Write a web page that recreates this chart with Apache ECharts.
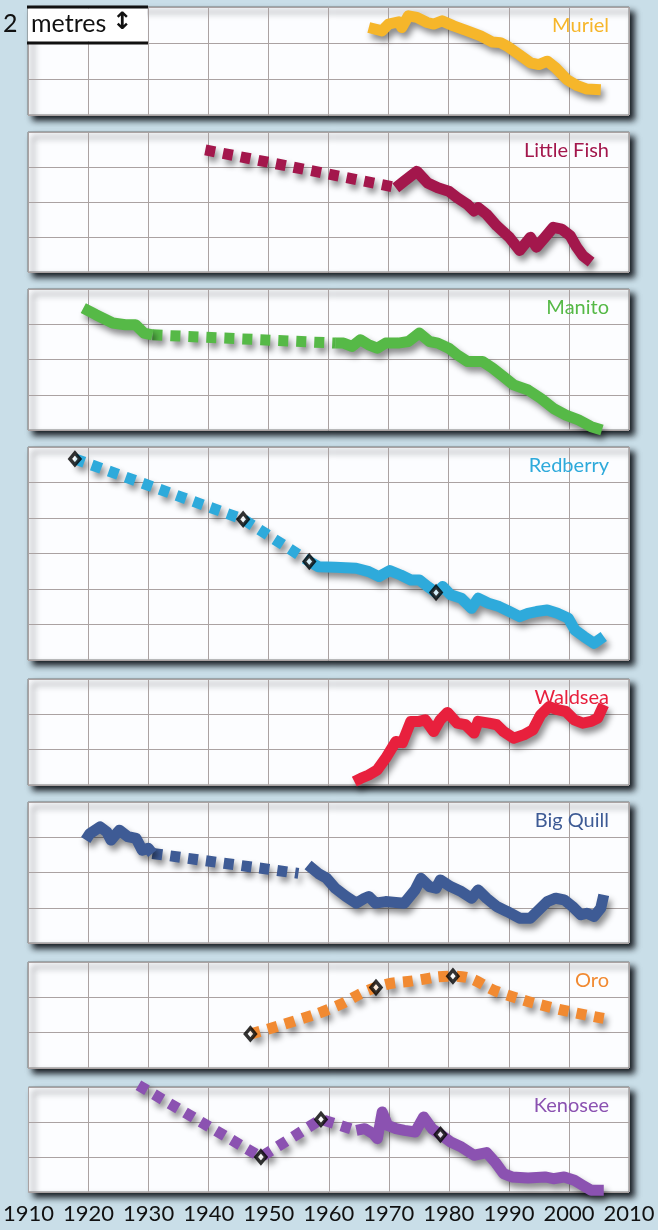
<!DOCTYPE html>
<html>
<head>
<meta charset="utf-8">
<script src="https://cdn.jsdelivr.net/npm/echarts@6/dist/echarts.min.js"></script>
<style>
html,body{margin:0;padding:0;background:#c9dee8;}
#chart{width:658px;height:1230px;}
</style>
</head>
<body>
<div id="chart"></div>
<script>
// ---- data: [year, water level in metres (relative)] ----
const yearTicks = [1910,1920,1930,1940,1950,1960,1970,1980,1990,2000,2010];
const lakeNames = ['Muriel','Little Fish','Manito','Redberry','Waldsea','Big Quill','Oro','Kenosee'];
const lakeColors = ['#f6b62a','#a3174c','#56b947','#2eaadb','#e8203d','#3e5b95','#f18a32','#8b52b1'];
const lakeRows = [3,4,4,6,3,4,3,3];

const murielSolid = [[1966.7,4.86],[1968.9,4.67],[1970,5.05],[1971.7,5.18],[1972.2,4.86],[1973.3,5.51],[1974.7,5.42],[1976.4,5.14],[1977.5,5.05],[1978.9,5.23],[1980.8,4.95],[1983.1,4.67],[1985.3,4.39],[1987.2,4.06],[1988.6,4.02],[1989.7,3.83],[1991.7,3.36],[1993.6,2.9],[1995,2.8],[1996.4,2.99],[1997.8,2.62],[1999.7,1.96],[2001.4,1.63],[2003,1.44],[2005.3,1.4]];

const littleFishDashed = [[1939.5,6.98],[1971.0,4.85]];
const littleFishSolid = [[1971.2,4.81],[1972.6,5.19],[1974.7,5.75],[1976.5,5.09],[1978.2,4.81],[1980,4.62],[1981.4,4.25],[1983.1,3.87],[1984.2,3.49],[1984.9,3.68],[1986.3,3.3],[1988,2.64],[1990.1,1.98],[1991.8,1.23],[1993.6,1.98],[1994.6,1.42],[1996,1.98],[1997.4,2.55],[1998.8,2.45],[2000.2,2.08],[2001.3,1.42],[2002.3,0.94],[2003.7,0.57]];

const manitoSolidEarly = [[1919.2,6.92],[1921.3,6.54],[1924.1,6.07],[1926.2,5.97],[1927.9,5.97],[1929.3,5.5],[1930.7,5.4]];
const manitoDashed = [[1930.7,5.4],[1961.1,4.93]];
const manitoSolid = [[1961.1,4.93],[1962.5,4.93],[1963.9,4.74],[1965.3,5.12],[1966.7,4.83],[1968.1,4.64],[1969.5,4.93],[1971.6,4.93],[1973.3,5.02],[1975.1,5.5],[1976.8,5.02],[1978.2,4.93],[1980,4.64],[1981.4,4.27],[1983.1,3.89],[1985.6,3.89],[1987.3,3.51],[1989.1,3.03],[1990.8,2.56],[1993.2,2.27],[1995.3,1.8],[1997.4,1.23],[1999.5,0.85],[2001.6,0.57],[2003.7,0.19],[2005.5,0.0]];

const redberryDashed = [[1917.8,11.33],[1945.8,7.93],[1956.8,5.55]];
const redberrySolid = [[1956.8,5.55],[1958.3,5.26],[1961.1,5.23],[1964.6,5.17],[1966.7,4.98],[1968.4,4.7],[1970.2,5.04],[1972,4.79],[1973.7,4.51],[1975.1,4.51],[1976.5,4.14],[1977.9,3.8],[1979,4.14],[1980.3,3.67],[1982.1,3.48],[1983.8,2.91],[1984.9,3.48],[1986.6,3.2],[1988.4,3.01],[1990.1,2.73],[1991.8,2.44],[1993.2,2.63],[1994.6,2.73],[1996.4,2.82],[1998.1,2.63],[1999.9,2.35],[2001,1.69],[2002.5,1.32],[2004.2,0.94],[2005.8,1.32]];
const redberryMarks = [[1917.8,11.33],[1945.8,7.93],[1956.8,5.55],[1977.9,3.8]];

const waldseaSolid = [[1964.3,0.19],[1965.4,0.38],[1966.7,0.57],[1968.1,0.85],[1969.5,1.51],[1971.2,2.46],[1972.3,2.4],[1973.7,3.6],[1975.1,3.6],[1976.1,3.69],[1977.5,3.03],[1978.6,3.69],[1979.8,4.11],[1981.4,3.5],[1982.8,3.41],[1984.2,2.94],[1984.9,3.6],[1986.7,3.5],[1988,3.41],[1989.1,3.03],[1990.8,2.65],[1992.5,2.84],[1994,3.12],[1995.3,3.97],[1996.7,4.44],[1998.1,4.26],[1999.5,4.16],[2000.9,3.69],[2002.3,3.5],[2003.7,3.6],[2004.8,3.79],[2005.8,4.54]];

const bigQuillSolidEarly = [[1919.6,5.84],[1920.3,6.21],[1922,6.59],[1923.1,6.31],[1923.8,5.84],[1925.2,6.4],[1926.6,6.03],[1928,5.93],[1929,5.27],[1930,5.37],[1930.7,5.08]];
const bigQuillDashed = [[1930.7,5.08],[1955.0,3.95]];
const bigQuillSolid = [[1956.6,4.43],[1958.3,3.95],[1959.7,3.67],[1961.1,3.11],[1962.9,2.64],[1964.6,2.26],[1966,2.54],[1966.7,2.64],[1967.8,2.26],[1969.5,2.35],[1971.2,2.3],[1972.6,2.26],[1974.4,3.01],[1975.4,3.67],[1976.8,3.2],[1977.9,3.11],[1978.6,3.58],[1980.3,3.2],[1982.1,2.92],[1983.8,2.54],[1984.9,3.01],[1986.3,2.54],[1988,2.07],[1989.7,1.79],[1991.8,1.41],[1993.6,1.41],[1995,1.88],[1996.4,2.35],[1997.8,2.54],[1999.2,2.45],[2000.6,2.07],[2002,1.6],[2003,1.69],[2004.2,1.51],[2005.3,1.98],[2005.8,2.73]];

const oroDashed = [[1947,1.93],[1954.1,2.63],[1961.1,3.47],[1967.9,4.56],[1974.4,4.95],[1980.7,5.2],[1989.1,4.2],[1997.4,3.4],[2005.8,2.81]];
const oroMarks = [[1947,1.93],[1967.9,4.56],[1980.7,5.2]];

const kenoseeDashed = [[1928.3,6.1],[1948.7,2.0],[1958.7,4.15],[1964.6,3.52]];
const kenoseeSolid = [[1964.6,3.52],[1966,3.62],[1967.4,3.33],[1968.1,3.05],[1968.9,4.57],[1969.8,3.81],[1971.2,3.62],[1972.6,3.52],[1974.4,3.43],[1975.8,4.29],[1977.2,3.62],[1978.6,3.28],[1980.3,2.86],[1982.1,2.57],[1984.2,2.1],[1986.3,2.25],[1987.7,1.71],[1989.1,1.05],[1990.5,0.86],[1993.2,0.8],[1996,0.86],[1997.4,0.76],[1999.2,0.86],[2000.9,0.67],[2002.3,0.38],[2003.7,0.1],[2005.8,0.1]];
const kenoseeMarks = [[1948.7,2.0],[1958.7,4.15],[1978.6,3.28]];

// ---- layout (pixels) ----
const panelTops = [7,132,289,447,679,802,962,1087];
const panelHeights = [108,140,141,213,106,141,106,105];

const lakeSegments = [
  {solid:[murielSolid], dashed:[], marks:null},
  {solid:[littleFishSolid], dashed:[littleFishDashed], marks:null},
  {solid:[manitoSolidEarly, manitoSolid], dashed:[manitoDashed], marks:null},
  {solid:[redberrySolid], dashed:[redberryDashed], marks:redberryMarks},
  {solid:[waldseaSolid], dashed:[], marks:null},
  {solid:[bigQuillSolidEarly, bigQuillSolid], dashed:[bigQuillDashed], marks:null},
  {solid:[], dashed:[oroDashed], marks:oroMarks, smooth:true},
  {solid:[kenoseeSolid], dashed:[kenoseeDashed], marks:kenoseeMarks}
];

const FONT = 'Lato, "Open Sans", sans-serif';
const gridColor = '#aaa2a2';
const grids = [], xAxes = [], yAxes = [], series = [], titles = [];

lakeNames.forEach((name, i) => {
  grids.push({
    left: 28, right: 29, top: panelTops[i], height: panelHeights[i],
    show: true, backgroundColor: '#fcfdff', borderColor: '#7a7a7a', borderWidth: 1,
    shadowColor: 'rgba(10,15,20,0.95)', shadowBlur: 6, shadowOffsetX: 5, shadowOffsetY: 5
  });
  const last = i === lakeNames.length - 1;
  xAxes.push({
    gridIndex: i, type: 'value', min: yearTicks[0], max: yearTicks[yearTicks.length-1], interval: 10,
    axisLine: {show: false}, axisTick: {show: false},
    axisLabel: {show: last, color: '#111', fontSize: 22, fontFamily: FONT, margin: 11,
      formatter: v => String(v)},
    splitLine: {show: true, lineStyle: {color: gridColor, width: 1}}
  });
  yAxes.push({
    gridIndex: i, type: 'value', min: 0, max: lakeRows[i]*2, interval: 2,
    axisLine: {show: false}, axisTick: {show: false}, axisLabel: {show: false},
    splitLine: {show: true, lineStyle: {color: gridColor, width: 1}}
  });
  titles.push({
    text: name, right: 44, top: panelTops[i] + 4,
    textStyle: {color: lakeColors[i], fontSize: 20, fontWeight: 'normal', fontFamily: FONT}
  });
  const seg = lakeSegments[i];
  const shadow = {shadowColor: 'rgba(0,0,0,0.45)', shadowBlur: 6, shadowOffsetX: 3, shadowOffsetY: 5};
  seg.dashed.forEach(d => series.push({
    type: 'line', xAxisIndex: i, yAxisIndex: i, data: d, showSymbol: false, clip: false,
    smooth: seg.smooth ? 0.5 : false, z: 3,
    lineStyle: Object.assign({color: lakeColors[i], width: 11, type: [10, 8], cap: 'butt', join: 'miter'}, shadow)
  }));
  seg.solid.forEach(d => series.push({
    type: 'line', xAxisIndex: i, yAxisIndex: i, data: d, showSymbol: false, clip: false, z: 4,
    lineStyle: Object.assign({color: lakeColors[i], width: 11, cap: 'butt', join: 'round'}, shadow)
  }));
  if (seg.marks) series.push({
    type: 'scatter', xAxisIndex: i, yAxisIndex: i, data: seg.marks, symbol: 'diamond', symbolSize: [10, 12],
    z: 6, itemStyle: {color: '#ffffff', borderColor: '#000', borderWidth: 3.5}
  });
});

const chart = echarts.init(document.getElementById('chart'), null, {renderer: 'canvas'});
chart.setOption({
  backgroundColor: '#c9dee8',
  animation: false,
  title: titles,
  grid: grids, xAxis: xAxes, yAxis: yAxes, series: series,
  graphic: [
    {type: 'line', shape: {x1: 27, y1: 7, x2: 148, y2: 7}, style: {stroke: '#111', lineWidth: 3}, z: 10},
    {type: 'line', shape: {x1: 27, y1: 43, x2: 148, y2: 43}, style: {stroke: '#111', lineWidth: 3}, z: 10},
    {type: 'rect', shape: {x: 28, y: 8.5, width: 119, height: 33}, style: {fill: '#ffffff'}, z: 9},
    {type: 'text', x: 3, y: 11, style: {text: '2', fontSize: 25, fontFamily: 'Lato', fill: '#111'}, z: 11},
    {type: 'text', x: 31, y: 11, style: {text: 'metres', fontSize: 25, fontFamily: 'Lato', fill: '#111'}, z: 11},
    {type: 'text', x: 112, y: 11, style: {text: '↕', fontSize: 24, fontWeight: 'bold', fontFamily: 'DejaVu Sans', fill: '#111'}, z: 11}
  ]
});
</script>
</body>
</html>
